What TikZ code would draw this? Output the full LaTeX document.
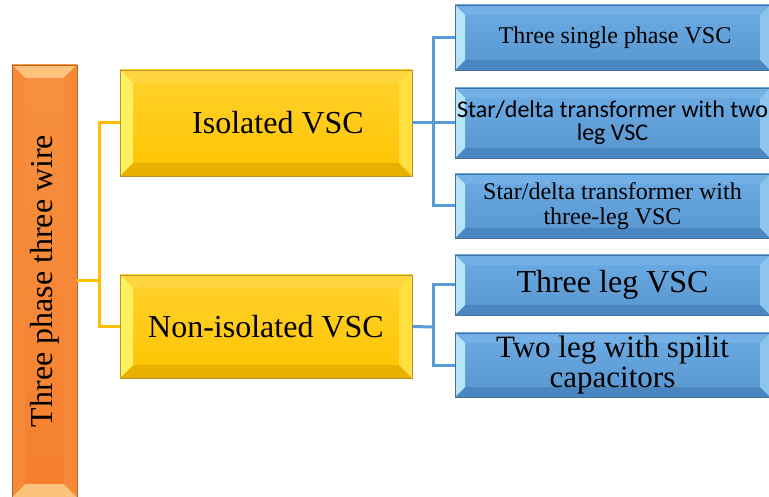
\documentclass[tikz,border=0pt]{standalone}
\usepackage{fontspec}
\setmainfont{Liberation Serif}
\newfontfamily\sansc{Carlito}
\usetikzlibrary{calc}
\definecolor{orbase}{HTML}{F5802E}
\definecolor{ortop}{HTML}{F79040}
\definecolor{orbord}{HTML}{B8641E}
\definecolor{orlite}{HTML}{FDC27C}
\definecolor{orside}{HTML}{F78A38}
\definecolor{ordark}{HTML}{E36E1E}
\definecolor{yebase}{HTML}{FFC400}
\definecolor{yetop}{HTML}{FFD22E}
\definecolor{yebord}{HTML}{B8962A}
\definecolor{yelite}{HTML}{FFF060}
\definecolor{yeright}{HTML}{FFE040}
\definecolor{yetopb}{HTML}{FFD640}
\definecolor{yedark}{HTML}{E8B000}
\definecolor{blbase}{HTML}{5896D0}
\definecolor{bltop}{HTML}{6CABE3}
\definecolor{blbord}{HTML}{41719C}
\definecolor{bllite}{HTML}{B8E4F7}
\definecolor{blright}{HTML}{8CC6EE}
\definecolor{bltopb}{HTML}{72B0E6}
\definecolor{bldark}{HTML}{4A86BF}
\definecolor{yline}{HTML}{FFC000}
\definecolor{bline}{HTML}{5B9BD5}
\newcommand\bevelfill[5]{%
  \coordinate (bvA) at (path picture bounding box.north west);
  \coordinate (bvB) at (path picture bounding box.north east);
  \coordinate (bvC) at (path picture bounding box.south east);
  \coordinate (bvD) at (path picture bounding box.south west);
  \coordinate (bva) at ([shift={(#1,-#1)}]bvA);
  \coordinate (bvb) at ([shift={(-#1,-#1)}]bvB);
  \coordinate (bvc) at ([shift={(-#1,#1)}]bvC);
  \coordinate (bvd) at ([shift={(#1,#1)}]bvD);
  \fill[#2] (bvA) -- (bvB) -- (bvb) -- (bva) -- cycle;
  \fill[#5] (bvD) -- (bvC) -- (bvc) -- (bvd) -- cycle;
  \fill[#3] (bvA) -- (bva) -- (bvd) -- (bvD) -- cycle;
  \fill[#4] (bvB) -- (bvb) -- (bvc) -- (bvC) -- cycle;
}
\tikzset{
  box/.style={rectangle, inner sep=0pt, align=center, line width=0.8pt},
  orbox/.style={box, draw=orbord, top color=ortop, bottom color=orbase,
    path picture={\bevelfill{13pt}{orlite}{orside}{orside}{orlite}},
    font=\fontsize{32}{34}\selectfont},
  yebox/.style={box, draw=yebord, top color=yetop, bottom color=yebase,
    path picture={\bevelfill{13pt}{yetopb}{yelite}{yeright}{yedark}},
    font=\fontsize{32}{34}\selectfont, minimum width=292pt},
  blbox/.style={box, draw=blbord, top color=bltop, bottom color=blbase,
    path picture={\bevelfill{10pt}{bltopb}{bllite}{blright}{bldark}},
    minimum width=315pt},
  ycon/.style={draw=yline, line width=3pt},
  bcon/.style={draw=bline, line width=3pt},
}
\begin{document}
\begin{tikzpicture}[x=1pt,y=-1pt]
\useasboundingbox (0,0) rectangle (769,497);
\clip (0,0) rectangle (769,497);
\fill[white] (0,0) rectangle (769,497);
% connectors first
\coordinate (ybus) at (99,281);
\coordinate (bbusA) at (433,123);
\coordinate (bbusB) at (433,327);
% nodes
\node[orbox, minimum width=65pt, minimum height=432pt] (or) at (44.5,281) {\rotatebox{90}{Three phase three wire}};
\node[yebox, minimum height=106pt] (iso) at (266,123) {\hspace*{24pt}Isolated VSC};
\node[yebox, minimum height=103pt] (non) at (266,326.5) {Non-isolated VSC};
\node[blbox, minimum height=65pt, font=\fontsize{24}{26}\selectfont] (b1) at (612.5,37.5) {\hspace*{5pt}Three single phase VSC};
\node[blbox, minimum height=70pt, font=\sansc\fontsize{24}{23}\selectfont] (b2) at (612.5,123) {Star/delta transformer with two\\leg VSC};
\node[blbox, minimum height=64pt, font=\fontsize{24}{25}\selectfont] (b3) at (612.5,206) {Star/delta transformer with\\three-leg VSC};
\node[blbox, minimum height=60pt, font=\fontsize{32}{34}\selectfont] (b4) at (612.5,285) {Three leg VSC};
\node[blbox, minimum height=64pt, font=\fontsize{31}{30}\selectfont] (b5) at (612.5,365) {Two leg with spilit\\capacitors};
% yellow connectors
\draw[ycon] (or.east) -- (ybus);
\draw[ycon] (iso.west) -| (ybus);
\draw[ycon] (non.west) -| (ybus);
% blue connectors
\draw[bcon] (iso.east) -- (bbusA);
\draw[bcon] (b1.west) -| (bbusA);
\draw[bcon] (b2.west) -- (bbusA);
\draw[bcon] (b3.west) -| (bbusA);
\draw[bcon] (non.east) -- (bbusB);
\draw[bcon] (b4.west) -| (bbusB);
\draw[bcon] (b5.west) -| (bbusB);
\end{tikzpicture}
\end{document}
